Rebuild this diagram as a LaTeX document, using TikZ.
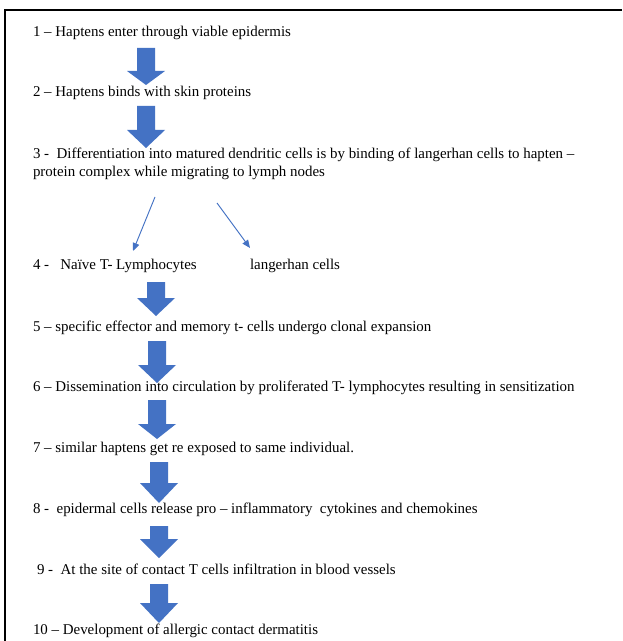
\documentclass[tikz,border=0pt]{standalone}
\usepackage{fontspec}
\setmainfont{Liberation Serif}
\usetikzlibrary{arrows.meta}
\definecolor{blkblue}{HTML}{4472C4}
\newcommand\BlkArrow[4]{%
  \fill[blkblue] ({#1-9},#2) -- ({#1+9},#2) -- ({#1+9},#3) -- ({#1+19},#3)
    -- (#1,#4) -- ({#1-19},#3) -- ({#1-9},#3) -- cycle;}
\begin{document}
\begin{tikzpicture}[x=0.75pt,y=-0.75pt,
  steptext/.style={anchor=base west,inner sep=0pt,outer sep=0pt,
    font=\fontsize{11.2pt}{13.5pt}\selectfont},
  thinarrow/.style={draw=blkblue,line width=0.7pt,
    -{Triangle[length=6pt,width=5pt]}}]
\useasboundingbox (0,0) rectangle (622,641);
\fill[white] (0,0) rectangle (622,641);
% frame
\draw[line width=1.6pt] (5,641) -- (5,10) -- (622,10);
% texts
\node[steptext] (s1) at (33,37) {1 – Haptens enter through viable epidermis};
\node[steptext] (s2) at (33,97) {2 – Haptens binds with skin proteins};
\node[steptext] (s3) at (33,159) {3 -\hspace{0.5em}Differentiation into matured dendritic cells is by binding of langerhan cells to hapten –};
\node[steptext] (s3b) at (33,177) {protein complex while migrating to lymph nodes};
\node[steptext] (s4) at (33,269) {4 -\hspace{0.75em}Naïve T- Lymphocytes};
\node[steptext] (s4b) at (250,269) {langerhan cells};
\node[steptext] (s5) at (33,331) {5 – specific effector and memory t- cells undergo clonal expansion};
\node[steptext] (s6) at (33,391.5) {6 – Dissemination into circulation by proliferated T- lymphocytes resulting in sensitization};
\node[steptext] (s7) at (33,452) {7 – similar haptens get re exposed to same individual.};
\node[steptext] (s8) at (33,513) {8 -\hspace{0.5em}epidermal cells release pro – inflammatory\hspace{0.5em}cytokines and chemokines};
\node[steptext] (s9) at (37,574) {9 -\hspace{0.5em}At the site of contact T cells infiltration in blood vessels};
\node[steptext] (s10) at (33,634) {10 – Development of allergic contact dermatitis};
% block arrows
\BlkArrow{146}{48}{71}{85}
\BlkArrow{146}{106}{130}{148}
\BlkArrow{156}{282}{298}{316}
\BlkArrow{157}{341}{365}{383}
\BlkArrow{157}{400}{424}{439}
\BlkArrow{159}{462}{483}{503}
\BlkArrow{159}{526}{539}{558}
\BlkArrow{159}{584}{603}{623}
% thin arrows
\coordinate (la) at (155,197);
\coordinate (lb) at (133,251);
\coordinate (ra) at (217,203);
\coordinate (rb) at (250,248);
\draw[thinarrow] (la) -- (lb);
\draw[thinarrow] (ra) -- (rb);
\end{tikzpicture}
\end{document}
